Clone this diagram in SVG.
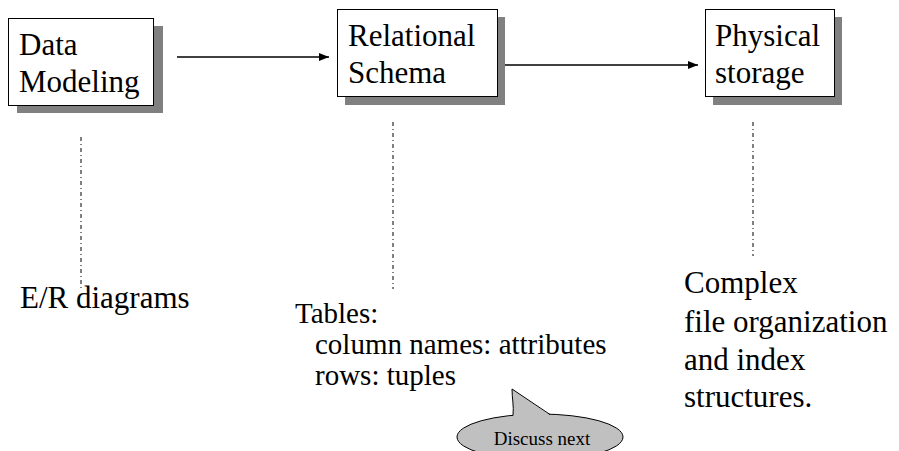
<svg xmlns="http://www.w3.org/2000/svg" width="899" height="451" viewBox="0 0 899 451">
<style>
.shadow{fill:#808080;stroke:none}
.box{fill:#fff;stroke:#000;stroke-width:1}
.t{font-family:"Liberation Serif","Times New Roman",serif;font-size:31px;fill:#000}
.tb{font-family:"Liberation Serif","Times New Roman",serif;font-size:29px;fill:#000}
.s{font-family:"Liberation Serif","Times New Roman",serif;font-size:19px;fill:#000}
.arrow{stroke:#000;stroke-width:1.3;fill:none}
.dash{stroke:#000;stroke-width:1;fill:none;stroke-dasharray:4 3 1 3}
</style>
<defs>
<marker id="ah" viewBox="0 0 10 8" refX="10" refY="4" markerWidth="10" markerHeight="8" markerUnits="userSpaceOnUse" orient="auto">
<path d="M0,0 L10,4 L0,8 z" fill="#000"/>
</marker>
</defs>
<g id="connectors">
<line class="arrow" x1="177" y1="57" x2="329" y2="57" marker-end="url(#ah)"/>
<line class="arrow" x1="505" y1="65" x2="698" y2="65" marker-end="url(#ah)"/>
<line class="dash" x1="81" y1="137" x2="81" y2="288"/>
<line class="dash" x1="393" y1="122" x2="393" y2="289"/>
<line class="dash" x1="753" y1="122" x2="753" y2="256"/>
</g>
<g id="data-modeling">
<rect class="shadow" x="17" y="26" width="146" height="87"/>
<rect class="box" x="8.5" y="18.5" width="145" height="87"/>
<text class="t"><tspan x="19" y="55">Data</tspan><tspan x="19" y="92">Modeling</tspan></text>
</g>
<g id="relational-schema">
<rect class="shadow" x="345" y="17" width="160" height="88"/>
<rect class="box" x="337.5" y="9.5" width="160" height="87"/>
<text class="t"><tspan x="348" y="46">Relational</tspan><tspan x="348" y="83">Schema</tspan></text>
</g>
<g id="physical-storage">
<rect class="shadow" x="713" y="17" width="129" height="88"/>
<rect class="box" x="705.5" y="9.5" width="129" height="87"/>
<text class="t"><tspan x="715" y="46">Physical</tspan><tspan x="715" y="83">storage</tspan></text>
</g>
<g id="er-diagrams">
<text class="t" x="20" y="308">E/R diagrams</text>
</g>
<g id="tables">
<text class="tb"><tspan x="295" y="323">Tables:</tspan><tspan x="315" y="354">column names: attributes</tspan><tspan x="315" y="385">rows: tuples</tspan></text>
</g>
<g id="complex">
<text class="t"><tspan x="684" y="293">Complex</tspan><tspan x="684" y="332">file organization</tspan><tspan x="684" y="370">and index</tspan><tspan x="684" y="407">structures.</tspan></text>
</g>
<g id="discuss-next">
<ellipse cx="540" cy="437" rx="83" ry="23" fill="#c0c0c0" stroke="#000" stroke-width="1"/>
<path d="M513,416 C514,406 512,398 512,389 L550,415 L550,422 L513,422 z" fill="#c0c0c0" stroke="none"/>
<path d="M513,415.5 C514,406 512,398 512,389 L550,414.5" fill="none" stroke="#000" stroke-width="1"/>
<text class="s" x="542" y="445" text-anchor="middle">Discuss next</text>
</g>
</svg>
